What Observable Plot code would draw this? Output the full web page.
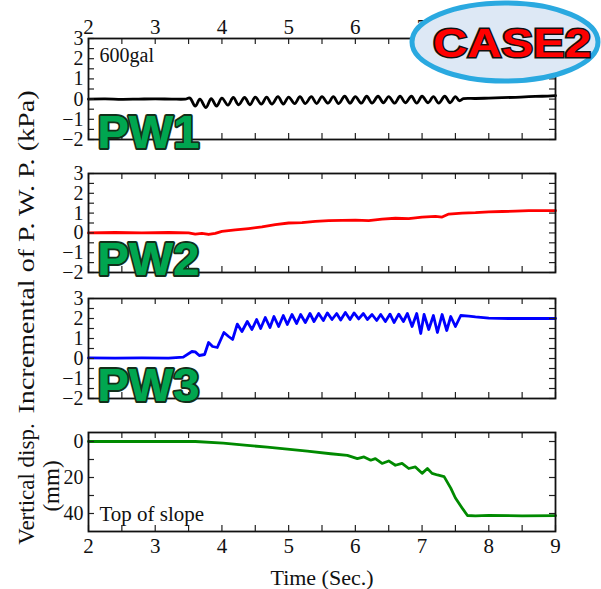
<!DOCTYPE html>
<html><head><meta charset="utf-8">
<script src="https://cdn.jsdelivr.net/npm/d3@7"></script>
<script src="https://cdn.jsdelivr.net/npm/@observablehq/plot@0.6"></script>
<style>
body{margin:0;background:#fff}
#chart{position:relative;width:601px;height:589px;font-family:"Liberation Serif",serif}
#chart svg{position:absolute;left:0;overflow:visible}
</style></head><body><div id="chart"></div>
<script>
// ---- data ----
const timeTicks = [2, 3, 4, 5, 6, 7, 8, 9];
const pwpTicks = [-2, -1, 0, 1, 2, 3];
const dispTicks = [0, 20, 40];
const dispMinorTicks = [0, 10, 20, 30, 40];
const panelNames = ["PW1", "PW2", "PW3"];
const caseLabel = "CASE2";
const pwpTitle = "Incremental of P. W. P. (kPa)";
const dispTitle = ["Vertical disp.", "(mm)"];
const timeTitle = "Time (Sec.)";
const inputNote = "600gal";
const dispNote = "Top of slope";

const pw1Time = [2.0,2.25,2.5,2.75,3.0,3.25,3.45,3.52,3.6,3.67,3.76,3.84,3.92,4.0,4.09,4.17,4.25,4.34,4.42,4.5,4.59,4.67,4.75,4.84,4.92,5.0,5.09,5.17,5.25,5.34,5.42,5.5,5.59,5.67,5.75,5.84,5.92,6.0,6.09,6.17,6.25,6.34,6.42,6.5,6.59,6.67,6.75,6.84,6.92,7.0,7.09,7.17,7.25,7.34,7.42,7.5,7.56,7.62,7.8,8.0,8.2,8.4,8.6,8.8,9.0];
const pw1Value = [0.0,0.01,-0.01,0.0,0.01,0.0,0.0,0.05,-0.35,0.0,-0.42,0.02,-0.35,0.05,-0.3,0.08,-0.28,0.08,-0.28,0.1,-0.25,0.1,-0.25,0.12,-0.25,0.1,-0.22,0.12,-0.22,0.12,-0.22,0.12,-0.2,0.12,-0.22,0.14,-0.2,0.12,-0.2,0.14,-0.2,0.14,-0.18,0.12,-0.2,0.14,-0.18,0.14,-0.2,0.14,-0.18,0.12,-0.2,0.14,-0.18,0.12,-0.08,0.02,0.03,0.05,0.07,0.09,0.12,0.14,0.17];

const pw2Time = [2.0,2.4,2.8,3.2,3.5,3.6,3.7,3.8,3.9,4.0,4.2,4.4,4.6,4.8,5.0,5.2,5.4,5.6,5.8,6.0,6.2,6.4,6.6,6.8,7.0,7.2,7.3,7.4,7.6,7.8,8.0,8.2,8.4,8.6,8.8,9.0];
const pw2Value = [0.0,0.02,0.0,0.02,0.0,-0.06,-0.02,-0.08,-0.02,0.08,0.15,0.22,0.3,0.42,0.5,0.52,0.58,0.62,0.63,0.65,0.62,0.7,0.74,0.72,0.8,0.83,0.8,0.95,1.0,1.02,1.06,1.08,1.1,1.12,1.12,1.12];

const pw3Time = [2.0,2.4,2.8,3.2,3.42,3.55,3.6,3.66,3.74,3.8,3.86,3.93,4.03,4.1,4.16,4.23,4.3,4.38,4.45,4.52,4.58,4.65,4.72,4.78,4.85,4.92,4.98,5.05,5.12,5.18,5.25,5.32,5.38,5.45,5.52,5.58,5.65,5.72,5.78,5.85,5.92,5.98,6.05,6.12,6.18,6.25,6.32,6.38,6.45,6.52,6.58,6.65,6.72,6.78,6.85,6.92,6.98,7.03,7.1,7.17,7.23,7.3,7.37,7.43,7.5,7.58,7.7,7.8,8.0,8.3,8.6,9.0];
const pw3Value = [0.03,0.02,0.03,0.02,0.07,0.35,0.33,0.15,0.2,0.8,0.6,0.55,1.3,1.1,0.95,1.72,1.35,1.85,1.45,1.95,1.5,2.05,1.55,2.1,1.6,2.15,1.7,2.2,1.75,2.2,1.8,2.25,1.85,2.25,1.9,2.28,1.95,2.25,1.92,2.3,1.95,2.28,1.98,2.25,1.95,2.2,1.9,2.2,1.85,2.22,1.8,2.22,1.85,2.25,1.6,2.25,1.25,2.2,1.45,2.15,1.3,2.2,1.4,2.1,1.6,2.15,2.12,2.08,2.02,2.0,2.0,2.0];

const dispTime = [2.0,2.5,3.0,3.6,4.02,4.38,4.68,4.98,5.28,5.63,5.88,6.03,6.13,6.23,6.3,6.4,6.5,6.6,6.7,6.8,6.9,7.0,7.08,7.15,7.23,7.33,7.43,7.5,7.6,7.68,7.8,8.0,8.5,9.0];
const dispValue = [0,0,0,0,0.9,2.2,3.1,4.2,5.3,6.8,7.7,9.5,8.6,10.4,9.5,12.2,10.8,13.2,12.2,15.0,14.1,17.7,15.0,17.7,18.6,19.5,25.9,31.4,36.9,41.1,41.3,41.0,41.3,41.2];

// ---- layout ----
const W = 601, ML = 88, MR = 46;
const minus = d => d < 0 ? "\u2212" + Math.abs(d) : String(d);
const xMinor = d3.range(2, 9.001, 0.5);
const pwpMinor = d3.range(-2, 3.001, 0.5);
const toRows = (ts, vs) => ts.map((t, i) => ({t, v: vs[i]}));

function pwLabel(name, dy) {
  const common = {frameAnchor: "bottom-left", dx: 9, dy, textAnchor: "start", lineAnchor: "bottom",
    fontSize: 47, fontWeight: "bold", fontFamily: "Liberation Sans"};
  return [
    Plot.text([name], {...common, text: d => d, fill: "#00a650", stroke: "#12301a", strokeWidth: 4}),
    Plot.text([name], {...common, text: d => d, fill: "#00a650"})
  ];
}

function panel(cfg) {
  const innerW = W - ML - MR, innerH = cfg.height - cfg.mt - cfg.mb;
  const marks = [
    Plot.line(cfg.rows, {x: "t", y: "v", stroke: cfg.color, strokeWidth: 2.8, curve: cfg.curve || "linear"}),
    Plot.ruleX(xMinor, {x: d => d, insetBottom: innerH - 6, stroke: "#222", strokeWidth: 1.2}),
    Plot.ruleX(xMinor, {x: d => d, insetTop: innerH - 6, stroke: "#222", strokeWidth: 1.2}),
    Plot.ruleY(cfg.yMinor, {y: d => d, insetRight: innerW - 6, stroke: "#222", strokeWidth: 1.2}),
    Plot.ruleY(cfg.yMinor, {y: d => d, insetLeft: innerW - 6, stroke: "#222", strokeWidth: 1.2}),
    Plot.axisY(cfg.yTicks, {anchor: "left", tickSize: 0, tickPadding: 5, tickFormat: minus, fontSize: 20, label: null}),
    Plot.frame({stroke: "#111", strokeWidth: 1.8}),
    ...(cfg.extra || [])
  ];
  if (cfg.topAxis) marks.push(Plot.axisX(timeTicks, {anchor: "top", tickSize: 0, tickPadding: 5, fontSize: 21, label: null}));
  if (cfg.bottomAxis) marks.push(Plot.axisX(timeTicks, {anchor: "bottom", tickSize: 0, tickPadding: 7, fontSize: 21, label: null}));
  const opts = {
    width: W, height: cfg.height,
    marginLeft: ML, marginRight: MR, marginTop: cfg.mt, marginBottom: cfg.mb,
    x: {domain: [2, 9], label: null},
    y: {domain: cfg.yDomain, reverse: !!cfg.reverse, label: null},
    style: {fontFamily: "Liberation Serif", background: "transparent", overflow: "visible", color: "#111"},
    marks
  };
  if (!cfg.topAxis && !cfg.bottomAxis) opts.x.axis = null;
  const svg = Plot.plot(opts);
  svg.style.top = cfg.top + "px";
  return svg;
}

const root = document.getElementById("chart");
const noteStyle = {textAnchor: "start", fontSize: 20, fontFamily: "Liberation Serif", fill: "#111"};

root.append(panel({top: 0, height: 150, mt: 38, mb: 11, rows: toRows(pw1Time, pw1Value), color: "#000",
  yDomain: [-2, 3], yTicks: pwpTicks, yMinor: pwpMinor, topAxis: true, curve: "catmull-rom",
  extra: [Plot.text([inputNote], {...noteStyle, text: d => d, frameAnchor: "top-left", dx: 11, dy: 9, lineAnchor: "top"}),
          ...pwLabel(panelNames[0], 8)]}));
root.append(panel({top: 160, height: 120, mt: 13, mb: 8, rows: toRows(pw2Time, pw2Value), color: "#ff0000",
  yDomain: [-2, 3], yTicks: pwpTicks, yMinor: pwpMinor, extra: pwLabel(panelNames[1], 2)}));
root.append(panel({top: 285, height: 120, mt: 13, mb: 7, rows: toRows(pw3Time, pw3Value), color: "#0000ff",
  yDomain: [-2, 3], yTicks: pwpTicks, yMinor: pwpMinor, extra: pwLabel(panelNames[2], 2)}));
root.append(panel({top: 420, height: 169, mt: 12, mb: 58, rows: toRows(dispTime, dispValue), color: "#008a00",
  yDomain: [-5, 50], reverse: true, yTicks: dispTicks, yMinor: dispMinorTicks, bottomAxis: true,
  extra: [Plot.text([dispNote], {...noteStyle, text: d => d, frameAnchor: "bottom-left", dx: 11, dy: -11, lineAnchor: "bottom", fontSize: 21}),
          Plot.text([timeTitle], {text: d => d, frameAnchor: "bottom", dy: 46, lineAnchor: "middle", fontSize: 22, fontFamily: "Liberation Serif", fill: "#111"})]}));

// ---- overlay: axis titles and case badge ----
const ov = d3.create("svg").attr("width", W).attr("height", 589).style("top", "0px");
ov.append("text").attr("transform", "translate(26,252) rotate(-90)")
  .attr("text-anchor", "middle").attr("dominant-baseline", "central")
  .attr("textLength", 323).attr("lengthAdjust", "spacingAndGlyphs")
  .style("font", "23px 'Liberation Serif'").attr("fill", "#111").text(pwpTitle);
ov.append("text").attr("transform", "translate(26,484) rotate(-90)")
  .attr("text-anchor", "middle").attr("dominant-baseline", "central")
  .style("font", "23px 'Liberation Serif'").attr("fill", "#111").text(dispTitle[0]);
ov.append("text").attr("transform", "translate(51,486) rotate(-90)")
  .attr("text-anchor", "middle").attr("dominant-baseline", "central")
  .style("font", "23px 'Liberation Serif'").attr("fill", "#111").text(dispTitle[1]);
ov.append("ellipse").attr("cx", 505).attr("cy", 42).attr("rx", 93).attr("ry", 39)
  .attr("fill", "#dde8f5").attr("stroke", "#2aa9e0").attr("stroke-width", 5);
ov.append("text").attr("x", 512).attr("y", 57).attr("text-anchor", "middle")
  .attr("textLength", 158).attr("lengthAdjust", "spacingAndGlyphs")
  .style("font", "bold 41px 'Liberation Sans'").style("paint-order", "stroke")
  .attr("fill", "#ff0000").attr("stroke", "#111").attr("stroke-width", 3).text(caseLabel);
root.append(ov.node());
</script></body></html>
